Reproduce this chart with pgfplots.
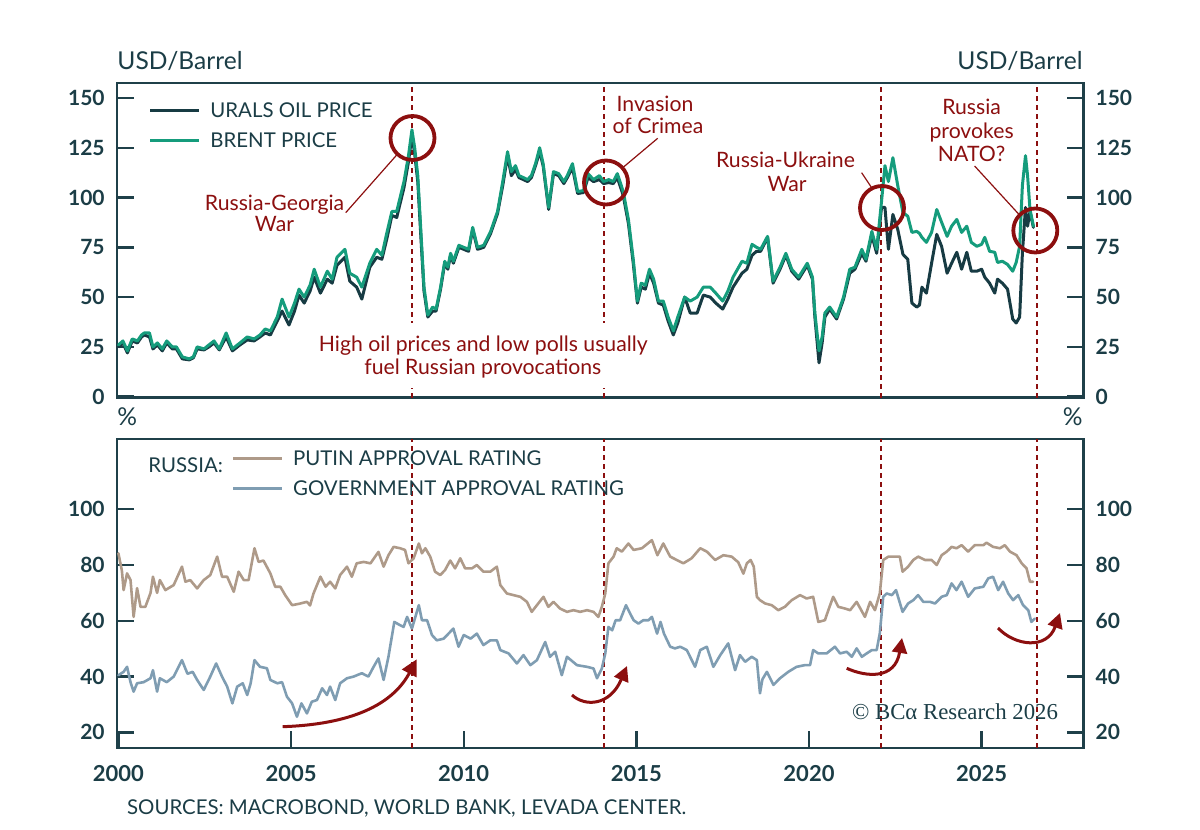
\documentclass[border=0pt]{standalone}
\usepackage{fontspec}
\setmainfont{Lato}
\newfontfamily\serifcr{Liberation Serif}
\usepackage{pgfplots}
\pgfplotsset{compat=1.18}
\usepackage{pgfplotstable}
\usetikzlibrary{arrows.meta}
\definecolor{axiscol}{HTML}{1F4049}
\definecolor{txtcol}{HTML}{1B3D46}
\definecolor{urals}{HTML}{173B43}
\definecolor{brent}{HTML}{159C7C}
\definecolor{putin}{HTML}{AE9A89}
\definecolor{govt}{HTML}{7F9DB2}
\definecolor{ann}{HTML}{8C0F0F}

\pgfplotstableread{
year brent urals
2000.00 26 25
2000.13 28 27
2000.26 23 22
2000.40 29 28
2000.55 28 27
2000.67 31 30
2000.75 32 31
2000.90 32 30
2001.00 25 24
2001.13 27 26
2001.27 24 23
2001.40 28 27
2001.56 25 24
2001.68 25 24
2001.85 20 19
2002.05 19 18.5
2002.17 20 19.5
2002.28 25 24
2002.48 24 23.5
2002.62 26 25
2002.77 28 27
2002.92 24 23.5
2003.12 32 30
2003.30 24 23
2003.52 27 26
2003.73 30 28.5
2003.93 29 28
2004.10 31 30
2004.25 34 32
2004.40 33 31
2004.60 40 38
2004.74 49 43
2004.94 40 36
2005.10 47 43
2005.23 54 51
2005.38 50 47
2005.55 56 53
2005.67 64 60
2005.85 55 52
2006.05 63 59
2006.19 59 57
2006.33 70 66
2006.56 74 70
2006.70 62 58
2006.90 60 55
2007.05 55 49
2007.28 67 65
2007.48 74 70
2007.63 71 69
2007.77 82 79
2007.92 93 91
2008.06 93 90
2008.27 108 105
2008.40 121 118
2008.50 134 131
2008.58 125 122
2008.67 111 108
2008.76 83 80
2008.85 55 53
2008.96 41 40
2009.10 45 43
2009.20 44 43
2009.33 55 54
2009.45 68 67
2009.54 65 64
2009.62 72 71
2009.70 68 67
2009.86 76 75
2010.00 75 74
2010.14 74 73
2010.26 85 84
2010.40 75 74
2010.58 76 75
2010.78 83 82
2010.98 93 92
2011.13 108 106
2011.27 123 121
2011.38 113 111
2011.50 116 114
2011.60 111 110
2011.73 110 109
2011.85 109 108
2011.96 111 110
2012.08 117 116
2012.20 125 123
2012.30 117 116
2012.46 95 94
2012.60 113 112
2012.75 112 111
2012.90 108 107
2013.00 111 110
2013.15 117 115
2013.30 103 102
2013.47 103.5 102.5
2013.60 112 110
2013.76 109 108
2013.93 111 109
2014.05 108 107
2014.20 109 107.5
2014.33 108 107
2014.45 112 110
2014.62 103 101
2014.77 89 87
2014.91 69 67
2015.03 48 47
2015.14 57 55
2015.26 56 54
2015.38 64 62
2015.50 59 57
2015.64 48 47
2015.78 48 46
2015.92 40 38
2016.07 33 31
2016.20 40 37
2016.40 50 50
2016.56 48 42
2016.76 50 42
2016.94 55 51
2017.14 55 50
2017.30 52 47
2017.50 48 44
2017.65 53 49
2017.80 60 55
2018.06 68 62
2018.20 67 64
2018.35 76.5 71
2018.48 75 73
2018.60 74 73
2018.80 80.5 80
2018.96 58 57
2019.16 65 64
2019.33 72 71
2019.50 64 63
2019.60 62 61
2019.70 60 59
2019.95 67 66
2020.10 60 59
2020.17 42 40
2020.29 23 17
2020.38 30 27
2020.46 42 40
2020.60 45 44
2020.80 40 39
2021.00 50 49
2021.18 64 62
2021.33 65 64
2021.53 74 72
2021.65 69 68
2021.82 83 81
2021.96 74 72
2022.10 98 95
2022.20 116 95
2022.30 108 74
2022.43 120 91.5
2022.57 106 84
2022.72 92.5 71.5
2022.86 90.6 69
2022.98 82.5 47
2023.12 83 45
2023.20 82 46
2023.27 80 55
2023.40 77.5 52
2023.55 82.5 67
2023.70 94 81.5
2023.84 87.6 75.5
2024.00 80.5 62
2024.13 85.6 67
2024.28 89 72.5
2024.42 82.5 64
2024.57 85.6 72.5
2024.70 77.5 63
2024.86 75.5 63
2025.00 76.5 64
2025.09 80 60
2025.23 73 57
2025.38 72.5 52
2025.46 67.4 59
2025.60 68 57
2025.75 66.4 54
2025.90 63 39
2026.00 67.4 37
2026.10 75.5 40
2026.18 106 72
2026.27 121 95
2026.33 111 85.6
2026.40 94 93
2026.50 85.6 85
}\oiltable

\pgfplotstableread{
year putin
2000.00 84.2
2000.10 78
2000.15 71
2000.25 77
2000.35 74.6
2000.44 61.4
2000.54 71.7
2000.64 65
2000.78 65
2000.93 70
2001.00 75.8
2001.12 70
2001.20 74.6
2001.36 71
2001.60 72.8
2001.84 79.4
2001.94 74
2002.08 74.6
2002.28 71.6
2002.47 74.6
2002.66 76.4
2002.86 83
2003.00 75.8
2003.15 75.8
2003.34 70.4
2003.48 77.6
2003.63 74.6
2003.77 74.6
2003.94 86
2004.06 81.1
2004.20 81.6
2004.40 77
2004.54 72.2
2004.69 72.2
2004.83 69.2
2005.03 65.6
2005.27 66.2
2005.46 66.8
2005.55 65.5
2005.65 69.8
2005.85 75.8
2006.00 72.2
2006.13 74
2006.28 71.6
2006.42 76.4
2006.62 79.4
2006.76 75.8
2006.90 80.6
2007.10 81.1
2007.30 80.6
2007.53 84.7
2007.68 79.4
2007.82 83.5
2007.97 86.5
2008.16 86
2008.30 85.4
2008.40 80.6
2008.55 82.4
2008.70 87.7
2008.79 84.2
2008.89 86
2009.03 83
2009.17 77.6
2009.32 76.4
2009.46 78.2
2009.61 81.6
2009.75 78.8
2009.90 82.4
2010.04 78.8
2010.24 78.8
2010.38 80
2010.57 77.6
2010.77 77.6
2010.96 79.4
2011.06 72.8
2011.25 69.8
2011.44 69.2
2011.64 68.6
2011.83 66.8
2011.97 63.2
2012.12 65.6
2012.31 68.6
2012.45 65
2012.60 66.8
2012.79 64.4
2012.99 63.2
2013.18 63.8
2013.37 63.2
2013.57 63.8
2013.76 63.2
2013.90 61.4
2014.00 65
2014.10 69.8
2014.19 80.6
2014.34 83
2014.43 86
2014.58 84.8
2014.77 87.7
2014.92 85.4
2015.16 86
2015.45 88.9
2015.61 83.5
2015.78 87.7
2015.98 83
2016.17 81.8
2016.36 80.6
2016.60 82.4
2016.85 86
2017.04 84.8
2017.28 81.8
2017.52 83.5
2017.76 83
2017.95 81
2018.10 76.9
2018.20 80.6
2018.31 81.8
2018.40 79.4
2018.49 68.6
2018.58 67.4
2018.73 66.2
2018.92 65.6
2019.11 63.8
2019.30 65
2019.50 67.4
2019.74 69.2
2019.93 68
2020.12 68.6
2020.27 59.6
2020.46 60.2
2020.56 63.8
2020.70 68.6
2020.85 65
2021.04 64.4
2021.19 63.8
2021.38 66.8
2021.62 61.4
2021.77 66.8
2021.91 63.8
2022.05 69.8
2022.15 81.8
2022.30 83
2022.49 83
2022.63 83
2022.71 77.6
2022.87 79.4
2023.02 81.8
2023.16 83
2023.36 81.8
2023.55 81.8
2023.70 80
2023.84 83.5
2023.99 84.8
2024.13 86.5
2024.27 86
2024.42 87.1
2024.61 84.8
2024.80 87.1
2025.05 87.1
2025.14 88
2025.33 86.5
2025.53 86
2025.67 87.1
2025.82 84.8
2026.01 83.5
2026.16 80.6
2026.30 78.8
2026.40 74
2026.49 74
}\putintable

\pgfplotstableread{
year govt
2000.00 40.5
2000.15 41.7
2000.25 43.5
2000.35 38
2000.44 34.6
2000.54 37.6
2000.73 38
2000.93 39.4
2001.00 42.3
2001.12 34.6
2001.20 39.4
2001.40 38
2001.60 40
2001.84 45.9
2002.00 41
2002.15 41.7
2002.28 38.8
2002.47 35.2
2002.66 40
2002.83 44.7
2003.00 40
2003.15 36.4
2003.30 30.4
2003.44 36.4
2003.60 37.6
2003.73 33.4
2003.83 37.6
2003.94 45.9
2004.10 43.5
2004.30 43
2004.40 38.8
2004.60 37.6
2004.74 38
2004.88 32.8
2005.03 30.4
2005.17 25.6
2005.30 30.4
2005.46 26.8
2005.60 31
2005.75 31.6
2005.90 35.8
2006.04 33.4
2006.13 36.4
2006.28 31.6
2006.42 37.6
2006.62 39.4
2006.81 40
2007.05 41.2
2007.24 40
2007.39 43.5
2007.53 46.5
2007.68 38.8
2007.82 47.1
2007.99 59.6
2008.16 58.4
2008.26 57.8
2008.36 61.4
2008.50 57.2
2008.70 65.6
2008.79 60.2
2008.94 60.2
2009.08 54.9
2009.22 53
2009.42 53.6
2009.56 55.4
2009.70 57.2
2009.85 50.7
2010.00 54.9
2010.20 53.6
2010.38 55.4
2010.57 51.3
2010.77 53
2010.96 53
2011.06 49.5
2011.30 48.3
2011.54 44.7
2011.73 47.7
2011.93 44.1
2012.12 45.9
2012.36 52.4
2012.50 47.1
2012.65 48.9
2012.84 40.5
2012.99 47.1
2013.28 44.1
2013.57 43.5
2013.76 42.9
2013.86 39.4
2014.00 42.9
2014.10 48.3
2014.19 57.8
2014.30 56.6
2014.40 60.2
2014.53 60.2
2014.70 65.6
2014.82 62.6
2014.92 60.2
2015.06 59
2015.20 60.2
2015.35 60.2
2015.45 61.4
2015.60 55.4
2015.70 59.6
2015.80 55.4
2015.98 50.7
2016.12 50.1
2016.27 50.7
2016.46 49.5
2016.70 43.5
2016.85 49.5
2017.04 50.7
2017.23 43.5
2017.43 47.7
2017.66 51.9
2017.86 42.3
2018.00 47.7
2018.15 45.3
2018.34 47.1
2018.49 45.9
2018.58 34
2018.65 39
2018.78 41.7
2018.97 37
2019.16 39.4
2019.40 41.7
2019.64 43.5
2019.88 44.1
2020.03 44.1
2020.12 49.5
2020.27 48.3
2020.51 48.3
2020.75 50.7
2020.90 48.3
2021.09 48.9
2021.24 47.1
2021.38 50.1
2021.53 47.1
2021.67 48.3
2021.82 49.5
2021.96 49.5
2022.05 55.5
2022.15 68.6
2022.25 69.8
2022.40 69.2
2022.52 71
2022.71 63.2
2022.87 66.2
2023.02 67.4
2023.16 69.2
2023.31 66.8
2023.50 66.8
2023.65 66.2
2023.84 68.6
2023.99 69.2
2024.13 73.4
2024.27 71
2024.42 74
2024.61 68.6
2024.80 71.6
2025.05 72.2
2025.19 75.2
2025.33 75.8
2025.48 71
2025.62 74
2025.77 69.8
2025.91 67.4
2026.06 69.2
2026.20 65.6
2026.35 63.8
2026.44 59.6
2026.54 60.8
}\govttable

\pgfplotsset{
  panel/.style={
    scale only axis, width=483.4pt,
    xmin=1999.95, xmax=2027.95,
    axis line style={axiscol, line width=1.2pt},
    tick style={axiscol, line width=1.2pt},
    major tick length=8.5pt, tick align=inside,
    every tick label/.append style={text=txtcol, font=\fontsize{10.5}{12}\selectfont\bfseries},
  },
}
\tikzset{evline/.style={ann, line width=0.85pt, dash pattern=on 2.4pt off 2.1pt}}

\begin{document}
\begin{tikzpicture}
\useasboundingbox (0,0) rectangle (600pt,415pt);

% ---------------- top panel ----------------
\begin{axis}[panel, at={(58.35pt,216.15pt)}, anchor=south west, height=157.35pt,
  ymin=-0.5, ymax=157.5, xtick=\empty,
  ytick={0,25,50,75,100,125,150}, yticklabels={0,25,50,75,100,125,150},
  ytick pos=both, yticklabel pos=left,
  yticklabel style={xshift=-2.5pt}]
  \pgfplotsinvokeforeach{2008.5,2014.07,2022.08,2026.6}{
    \draw[evline] (axis cs:#1,-0.5) -- (axis cs:#1,157.5);}
  \addplot[urals, line width=1.5pt, line join=round, line cap=round] table[x=year,y=urals]{\oiltable};
  \addplot[brent, line width=1.5pt, line join=round, line cap=round] table[x=year,y=brent]{\oiltable};
\end{axis}
\begin{axis}[panel, at={(58.35pt,216.15pt)}, anchor=south west, height=157.35pt,
  ymin=-0.5, ymax=157.5, hide x axis, axis y line*=right,
  y axis line style={draw=none}, ytick style={draw=none},
  ytick={0,25,50,75,100,125,150}, yticklabels={0,25,50,75,100,125,150},
  yticklabel pos=right, yticklabel style={xshift=2.5pt}]
\end{axis}

% ---------------- bottom panel ----------------
\begin{axis}[panel, at={(58.35pt,41pt)}, anchor=south west, height=154.4pt,
  ymin=14.4, ymax=125.1,
  xtick={2000,2005,2010,2015,2020,2025}, xticklabels={2000,2005,2010,2015,2020,2025},
  xtick pos=left, xticklabel style={yshift=-5pt, font=\fontsize{11}{13}\selectfont\bfseries},
  ytick={20,40,60,80,100}, yticklabels={20,40,60,80,100},
  ytick pos=both, yticklabel pos=left,
  yticklabel style={xshift=-2.5pt}]
  \pgfplotsinvokeforeach{2008.5,2014.07,2022.08,2026.6}{
    \draw[evline] (axis cs:#1,14.4) -- (axis cs:#1,125.1);}
  \addplot[putin, line width=1.3pt, line join=round, line cap=round] table[x=year,y=putin]{\putintable};
  \addplot[govt, line width=1.3pt, line join=round, line cap=round] table[x=year,y=govt]{\govttable};
\end{axis}
\begin{axis}[panel, at={(58.35pt,41pt)}, anchor=south west, height=154.4pt,
  ymin=14.4, ymax=125.1, hide x axis, axis y line*=right,
  y axis line style={draw=none}, ytick style={draw=none},
  ytick={20,40,60,80,100}, yticklabels={20,40,60,80,100},
  yticklabel pos=right, yticklabel style={xshift=2.5pt}]
\end{axis}

% ---------------- annotations (pixel coordinates) ----------------
\begin{scope}[x=0.5pt, y=-0.5pt, shift={(0pt,415pt)}]
  \def\bodyfont{\fontsize{10.2}{12}\selectfont}
  \def\annfont{\fontsize{10.6}{12}\selectfont}
  % unit labels
  \node[anchor=base west, inner sep=0pt, text=txtcol, font=\fontsize{12.3}{14}\selectfont] at (117,69.3) {USD/Barrel};
  \node[anchor=base east, inner sep=0pt, text=txtcol, font=\fontsize{12.3}{14}\selectfont] at (1083,69.3) {USD/Barrel};
  \node[anchor=base west, inner sep=0pt, text=txtcol, font=\fontsize{12.3}{14}\selectfont] at (117,426) {\%};
  \node[anchor=base east, inner sep=0pt, text=txtcol, font=\fontsize{12.3}{14}\selectfont] at (1083,426) {\%};
  % top legend
  \draw[urals, line width=1.6pt] (150,110.7) -- (199,110.7);
  \draw[brent, line width=1.6pt] (150,140.3) -- (199,140.3);
  \node[anchor=base west, inner sep=0pt, text=txtcol, font=\bodyfont] at (210,117.7) {URALS OIL PRICE};
  \node[anchor=base west, inner sep=0pt, text=txtcol, font=\bodyfont] at (210,147.3) {BRENT PRICE};
  % bottom legend
  \node[anchor=base west, inner sep=0pt, text=txtcol, font=\bodyfont] at (148,473) {RUSSIA:};
  \draw[putin, line width=1.5pt] (233,459) -- (282,459);
  \draw[govt, line width=1.5pt] (233,489) -- (282,489);
  \node[anchor=base west, inner sep=0pt, text=txtcol, font=\bodyfont] at (292.7,466) {PUTIN APPROVAL RATING};
  \node[anchor=base west, inner sep=0pt, text=txtcol, font=\bodyfont] at (292.7,496) {GOVERNMENT APPROVAL RATING};
  % circles
  \foreach \cx/\cy in {412.5/138, 606/182.5, 882/208, 1035.3/230.5}
    \draw[ann, line width=1.9pt] (\cx,\cy) circle[radius=11pt];
  % leader lines
  \draw[ann, line width=0.6pt] (345.7,212.7) -- (396.7,155);
  \draw[ann, line width=0.6pt] (657.7,138.3) -- (623.2,167.3);
  \draw[ann, line width=0.6pt] (861.6,172.7) -- (872,188.3);
  \draw[ann, line width=0.6pt] (974.6,166) -- (1018.6,214);
  % annotation texts
  \node[anchor=base, inner sep=0pt, text=ann, font=\annfont] at (274.5,210.5) {Russia-Georgia};
  \node[anchor=base, inner sep=0pt, text=ann, font=\annfont] at (274.5,232) {War};
  \node[anchor=base, inner sep=0pt, text=ann, font=\annfont] at (655,111.5) {Invasion};
  \node[anchor=base, inner sep=0pt, text=ann, font=\annfont] at (658,134) {of Crimea};
  \node[anchor=base, inner sep=0pt, text=ann, font=\annfont] at (785.5,168) {Russia-Ukraine};
  \node[anchor=base, inner sep=0pt, text=ann, font=\annfont] at (787,192) {War};
  \node[anchor=base, inner sep=0pt, text=ann, font=\annfont] at (971.6,115) {Russia};
  \node[anchor=base, inner sep=0pt, text=ann, font=\annfont] at (971.6,138.5) {provokes};
  \node[anchor=base, inner sep=0pt, text=ann, font=\annfont] at (971.6,161.7) {NATO?};
  \fill[white] (312,323) rectangle (655,388);
  \node[anchor=base, inner sep=0pt, text=ann, font=\annfont] at (483.3,352) {High oil prices and low polls usually};
  \node[anchor=base, inner sep=0pt, text=ann, font=\annfont] at (482.8,374.5) {fuel Russian provocations};
  % arrows
  \draw[ann, line width=1.5pt, -{Triangle[length=8pt,width=8pt]}] (282.7,726.7) .. controls (360,724) and (395,700) .. (416.7,659.3);
  \draw[ann, line width=1.5pt, -{Triangle[length=7.5pt,width=7.5pt]}] (572,695) .. controls (585,707) and (610,706) .. (627,666);
  \draw[ann, line width=1.5pt, -{Triangle[length=7.5pt,width=7.5pt]}] (846.7,668.3) .. controls (866,677) and (895,680) .. (902,638);
  \draw[ann, line width=1.5pt, -{Triangle[length=7.5pt,width=7.5pt]}] (998,628) .. controls (1015,646) and (1047,650) .. (1060,613);
  % copyright
  \node[anchor=base, inner sep=0pt, text=txtcol, font=\serifcr\fontsize{11.4}{13}\selectfont] at (955,720) {© BCα Research 2026};
  % sources
  \node[anchor=base west, inner sep=0pt, text=txtcol, font=\bodyfont] at (126.7,815) {SOURCES: MACROBOND, WORLD BANK, LEVADA CENTER.};
\end{scope}
\end{tikzpicture}
\end{document}
